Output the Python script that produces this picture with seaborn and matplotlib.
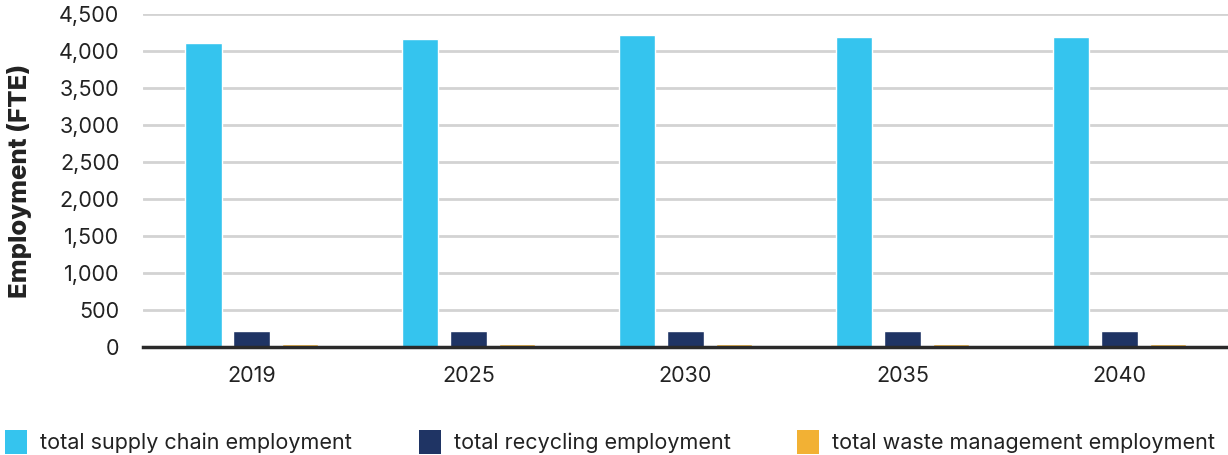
import matplotlib
matplotlib.use("Agg")
import matplotlib.pyplot as plt
import seaborn as sns
import pandas as pd
from matplotlib.patches import Patch
from matplotlib.ticker import FuncFormatter

years = ["2019", "2025", "2030", "2035", "2040"]
supply_chain = [4110, 4165, 4215, 4190, 4190]
recycling = [220, 220, 220, 220, 220]
waste = [45, 45, 45, 45, 45]
series_names = ["total supply chain employment", "total recycling employment",
                "total waste management employment"]
colors = ["#35C4EE", "#1F3464", "#F2B134"]

rows = []
for name, vals in zip(series_names, [supply_chain, recycling, waste]):
    for y, v in zip(years, vals):
        rows.append({"year": y, "series": name, "value": v})
df = pd.DataFrame(rows)

sns.set_style("white")
plt.rcParams["font.family"] = ["Inter", "DejaVu Sans"]

fig = plt.figure(figsize=(12.28, 4.55), dpi=100)
ax = fig.add_axes([0.1165, 0.2374, 0.8835, 0.7316])

sns.barplot(data=df, x="year", y="value", hue="series", palette=colors,
            width=0.67, gap=0.24, ax=ax, legend=False, saturation=1)

ax.set_xlim(-0.5, 4.5)
ax.set_ylim(0, 4500)
ax.set_yticks(range(0, 4501, 500))
ax.yaxis.set_major_formatter(FuncFormatter(lambda v, p: f"{int(v):,}"))
ax.grid(axis="y", color="#d3d3d3", linewidth=2)
ax.set_axisbelow(True)
for s in ["top", "right", "left"]:
    ax.spines[s].set_visible(False)
ax.spines["bottom"].set_color("#2a2a2a")
ax.spines["bottom"].set_linewidth(2.5)
ax.tick_params(axis="both", length=0, labelsize=15.5, colors="#222222")
ax.tick_params(axis="x", pad=14)
ax.tick_params(axis="y", pad=17)
ax.set_xlabel("")
ax.set_ylabel("Employment (FTE)", fontsize=18.5, fontweight="heavy", color="#222222", labelpad=19)

handles = [Patch(facecolor=c, edgecolor="none") for c in colors]
fig.legend(handles, series_names, loc="lower left", bbox_to_anchor=(-0.008, -0.032),
           ncol=3, frameon=False, fontsize=15.5, handlelength=1.02, handleheight=1.4,
           columnspacing=3.1, handletextpad=0.6, labelcolor="#222222",
           borderaxespad=0.3)

fig.savefig("out.png", dpi=100)
